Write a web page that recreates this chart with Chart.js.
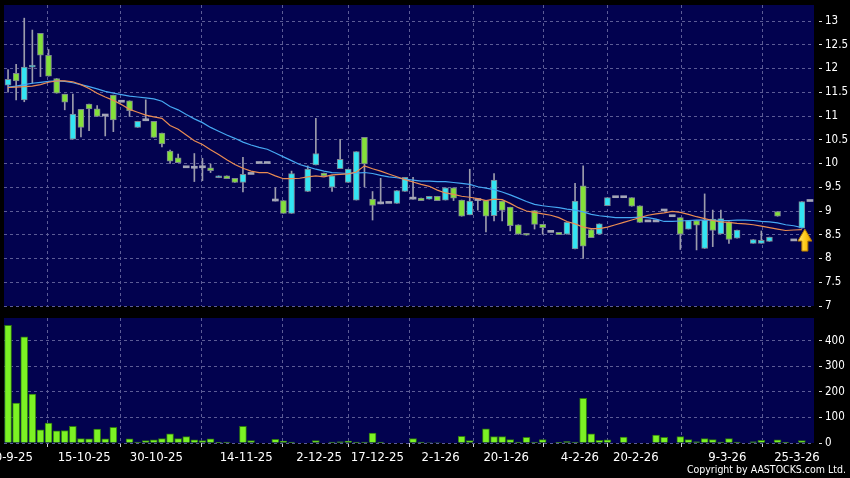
<!DOCTYPE html>
<html>
<head>
<meta charset="utf-8">
<script src="https://cdn.jsdelivr.net/npm/chart.js@4.4.1/dist/chart.umd.min.js"></script>
<style>
  body { margin: 0; background: #000; width: 850px; height: 478px; overflow: hidden; position: relative; }
  canvas { position: absolute; left: 0; }
  #copy { position: absolute; right: 4px; top: 463px; color: #fff;
          font: 10.5px "DejaVu Sans Condensed", "DejaVu Sans", sans-serif; white-space: nowrap; }
</style>
</head>
<body>
<canvas id="priceChart" width="850" height="312" style="top:0"></canvas>
<canvas id="volChart" width="850" height="166" style="top:312px"></canvas>
<div id="copy">Copyright by AASTOCKS.com Ltd.</div>
<script>
// nhãn trục X và vị trí (theo số thứ tự phiên)
const tickLabels = ['30-9-25', '15-10-25', '30-10-25', '14-11-25', '2-12-25', '17-12-25',
                    '2-1-26', '20-1-26', '4-2-26', '20-2-26', '9-3-26', '25-3-26'];
const tickIndex = [0.25, 9.4, 18.3, 29.4, 38.4, 45.6, 53.4, 61.5, 70.6, 77.5, 88.8, 97.4];
// nhãn trục Y
const priceTicks = [7, 7.5, 8, 8.5, 9, 9.5, 10, 10.5, 11, 11.5, 12, 12.5, 13];
const volTicks = [0, 100, 200, 300, 400];

// giá mở / cao / thấp / đóng cửa
const openP = [11.65, 11.90, 11.34, 12.03, 12.74, 12.28, 11.79, 11.46, 10.51, 11.14,
  11.25, 11.15, 11.00, 11.44, 11.29, 11.32, 10.76, 10.90, 10.89, 10.64,
  10.26, 10.12, 9.91, 9.90, 9.91, 9.91, 9.70, 9.74, 9.69, 9.60,
  9.77, 10.00, 10.00, 9.21, 9.22, 8.95, null, 9.41, 9.97, 9.80,
  9.50, 9.89, 9.60, 9.23, 10.55, 9.25, 9.15, 9.16, 9.16, 9.41,
  9.25, 9.27, 9.25, 9.31, 9.23, 9.49, 9.23, 8.92, 9.22, 9.22,
  8.90, 9.21, 9.08, 8.71, 8.53, 9.01, 8.72, 8.55, 8.55, 8.51,
  8.20, 9.53, 8.61, 8.51, 9.11, 9.28, 9.28, 9.28, 9.11, 8.77,
  8.77, 9.00, 8.88, 8.86, 8.62, 8.80, 8.21, 8.83, 8.52, 8.77,
  8.43, null, 8.32, 8.32, 8.36, 8.99, null, 8.37, 8.64, 9.20];
const highP = [11.98, 12.09, 13.06, 12.81, 12.74, 12.40, 11.79, 11.46, 11.46, 11.14,
  11.25, 11.22, 11.00, 11.44, 11.29, 11.32, 10.89, 11.34, 10.89, 10.64,
  10.28, 10.20, 9.91, 10.21, 10.11, 9.99, 9.74, 9.74, 9.69, 10.13,
  9.77, 10.00, 10.00, 9.49, 9.22, 9.84, null, 9.95, 10.95, 9.80,
  9.74, 10.51, 9.88, 10.25, 10.55, 9.41, 9.69, 9.16, 9.43, 9.71,
  9.71, 9.27, 9.31, 9.31, 9.49, 9.49, 9.23, 9.88, 9.22, 9.22,
  9.79, 9.21, 9.08, 8.71, 8.53, 9.01, 8.72, 8.55, 8.55, 8.76,
  9.58, 9.95, 8.61, 8.73, 9.28, 9.28, 9.28, 9.28, 9.11, 8.77,
  8.77, 9.00, 8.88, 8.86, 8.80, 8.80, 9.36, 9.02, 9.02, 8.77,
  8.60, null, 8.40, 8.58, 8.45, 8.99, null, 8.37, 9.20, 9.20];
const lowP = [11.50, 11.34, 11.30, 11.69, 11.83, 11.84, 11.48, 11.13, 10.51, 10.56,
  10.69, 10.99, 10.58, 10.67, 11.29, 10.99, 10.76, 10.90, 10.55, 10.35,
  10.00, 10.02, 9.91, 9.62, 9.64, 9.81, 9.70, 9.68, 9.60, 9.40,
  9.77, 10.00, 10.00, 9.21, 8.95, 8.95, null, 9.41, 9.97, 9.74,
  9.41, 9.89, 9.60, 9.23, 9.51, 8.81, 9.15, 9.16, 9.16, 9.41,
  9.25, 9.22, 9.25, 9.22, 9.23, 9.22, 8.89, 8.92, 9.02, 8.56,
  8.79, 8.79, 8.58, 8.51, 8.49, 8.62, 8.51, 8.55, 8.50, 8.51,
  8.20, 8.00, 8.44, 8.51, 9.11, 9.28, 9.28, 9.10, 8.76, 8.77,
  8.77, 9.00, 8.88, 8.19, 8.62, 8.18, 8.21, 8.25, 8.52, 8.32,
  8.43, null, 8.32, 8.32, 8.36, 8.89, null, 8.37, 8.64, 9.20];
const closeP = [11.77, 11.74, 12.03, 12.07, 12.28, 11.84, 11.48, 11.29, 11.04, 10.76,
  11.15, 10.99, 11.00, 10.92, 11.29, 11.11, 10.89, 10.90, 10.55, 10.41,
  10.05, 10.02, 9.91, 9.90, 9.91, 9.85, 9.74, 9.68, 9.60, 9.77,
  9.77, 10.00, 10.00, 9.21, 8.95, 9.79, null, 9.88, 10.21, 9.74,
  9.74, 10.09, 9.88, 10.25, 9.99, 9.12, 9.15, 9.16, 9.43, 9.71,
  9.25, 9.22, 9.31, 9.22, 9.49, 9.27, 8.89, 9.21, 9.22, 8.89,
  9.65, 9.01, 8.69, 8.51, 8.49, 8.72, 8.65, 8.55, 8.50, 8.76,
  9.21, 8.26, 8.44, 8.73, 9.28, 9.28, 9.28, 9.10, 8.76, 8.77,
  8.77, 9.00, 8.88, 8.51, 8.80, 8.70, 8.81, 8.59, 8.84, 8.40,
  8.60, null, 8.40, 8.38, 8.45, 8.89, null, 8.37, 9.20, 9.20];

// hai đường trung bình động
const maShort = [11.60, 11.61, 11.62, 11.63, 11.66, 11.71, 11.74, 11.74, 11.72, 11.66,
  11.58, 11.48, 11.40, 11.33, 11.24, 11.14, 11.08, 11.02, 10.98, 10.95,
  10.80, 10.72, 10.60, 10.48, 10.40, 10.29, 10.19, 10.08, 9.98, 9.90,
  9.84, 9.81, 9.81, 9.74, 9.68, 9.68, 9.69, 9.72, 9.74, 9.72,
  9.76, 9.77, 9.78, 9.82, 9.95, 9.89, 9.84, 9.78, 9.72, 9.66,
  9.61, 9.56, 9.52, 9.44, 9.38, 9.35, 9.31, 9.29, 9.26, 9.22,
  9.25, 9.24, 9.16, 9.07, 9.00, 8.97, 8.94, 8.91, 8.86, 8.78,
  8.73, 8.66, 8.63, 8.63, 8.66, 8.71, 8.76, 8.81, 8.86, 8.91,
  8.94, 8.96, 8.99, 8.97, 8.93, 8.88, 8.84, 8.80, 8.77, 8.76,
  8.74, 8.73, 8.71, 8.68, 8.65, 8.62, 8.59, 8.60, 8.61, null];
const maLong = [11.61, 11.63, 11.66, 11.69, 11.71, 11.73, 11.74, 11.73, 11.70, 11.66,
  11.62, 11.57, 11.52, 11.48, 11.45, 11.42, 11.40, 11.38, 11.36, 11.31,
  11.20, 11.13, 11.03, 10.94, 10.86, 10.76, 10.68, 10.60, 10.53, 10.45,
  10.39, 10.34, 10.30, 10.22, 10.14, 10.06, 9.98, 9.93, 9.88, 9.84,
  9.81, 9.80, 9.79, 9.80, 9.81, 9.79, 9.75, 9.72, 9.70, 9.67,
  9.65, 9.63, 9.63, 9.62, 9.62, 9.60, 9.58, 9.56, 9.51, 9.48,
  9.45, 9.40, 9.34, 9.27, 9.20, 9.14, 9.11, 9.09, 9.07, 9.04,
  9.02, 8.98, 8.93, 8.90, 8.88, 8.86, 8.86, 8.86, 8.87, 8.86,
  8.83, 8.78, 8.78, 8.79, 8.80, 8.81, 8.81, 8.81, 8.80, 8.80,
  8.81, 8.81, 8.80, 8.78, 8.77, 8.75, 8.71, 8.69, 8.65, null];

// khối lượng giao dịch
const volume = [461, 156, 416, 192, 52, 78, 48, 49, 65, 17,
  16, 55, 16, 61, 0, 16, 4, 9, 12, 17,
  36, 17, 25, 12, 9, 16, 3, 4, 0, 65,
  9, 0, 0, 14, 8, 4, 0, 0, 9, 0,
  4, 5, 8, 4, 4, 39, 4, 0, 0, 0,
  17, 4, 2, 2, 0, 0, 26, 9, 0, 56,
  25, 25, 13, 4, 22, 4, 13, 0, 3, 6,
  4, 175, 36, 10, 12, 0, 23, 0, 0, 0,
  31, 22, 0, 25, 13, 5, 17, 13, 4, 17,
  4, 0, 5, 10, 0, 12, 3, 0, 9, 0];

const UP = '#33e4f2', DOWN = '#84e03a', FLAT = '#a4a6b6';
const GRID = '#5c5c96';
const FONT = '"DejaVu Sans Condensed", "DejaVu Sans", sans-serif';

function candleColor(i) {
  if (closeP[i] > openP[i]) return UP;
  if (closeP[i] < openP[i]) return DOWN;
  return FLAT;
}

const idx = openP.map((v, i) => i).filter(i => openP[i] !== null);
const wickData = idx.filter(i => highP[i] > lowP[i]).map(i => ({ x: i, y: [lowP[i], highP[i]] }));
const bodyData = idx.map(i => ({ x: i, y: [Math.min(openP[i], closeP[i]), Math.max(openP[i], closeP[i])] }));
const toXY = arr => arr.map((v, i) => ({ x: i, y: v })).filter(p => p.y !== null);

// nền xanh đậm cho vùng vẽ
const plotBg = {
  id: 'plotBg',
  beforeDraw(chart) {
    const { ctx, chartArea: a } = chart;
    ctx.save();
    ctx.fillStyle = '#02024f';
    ctx.fillRect(a.left, a.top, a.right - a.left, a.bottom - a.top);
    ctx.restore();
  }
};

// mũi tên vàng dưới nến cuối
const arrowMark = {
  id: 'arrowMark',
  afterDatasetsDraw(chart) {
    const { ctx, scales: { x, y } } = chart;
    const last = 98;
    const cx = x.getPixelForValue(last) + 3;
    const tip = y.getPixelForValue(lowP[last]) + 1;
    ctx.save();
    ctx.beginPath();
    ctx.moveTo(cx, tip);
    ctx.lineTo(cx + 7, tip + 12);
    ctx.lineTo(cx + 3, tip + 12);
    ctx.lineTo(cx + 3, tip + 22);
    ctx.lineTo(cx - 3, tip + 22);
    ctx.lineTo(cx - 3, tip + 12);
    ctx.lineTo(cx - 7, tip + 12);
    ctx.closePath();
    const g = ctx.createLinearGradient(cx - 7, 0, cx + 7, 0);
    g.addColorStop(0, '#ffe680');
    g.addColorStop(0.5, '#ffcc1a');
    g.addColorStop(1, '#e8a000');
    ctx.fillStyle = g;
    ctx.fill();
    ctx.strokeStyle = '#b07800';
    ctx.lineWidth = 1;
    ctx.stroke();
    ctx.restore();
  }
};

function noPad(scale) {
  scale.paddingLeft = 0; scale.paddingRight = 0;
  scale.paddingTop = 0; scale.paddingBottom = 0;
}

function xAxis(showLabels) {
  return {
    type: 'linear', min: -0.5, max: 99.5, offset: false,
    afterBuildTicks: s => { s.ticks = tickIndex.map(v => ({ value: v })); },
    afterFit: s => { noPad(s); s.height = showLabels ? 35 : 0; },
    grid: { color: GRID, lineWidth: 1, drawTicks: showLabels, tickLength: 4,
            tickColor: '#d0d0d0', tickBorderDash: [] },
    border: { display: false, dash: [3, 3] },
    ticks: {
      display: showLabels, autoSkip: false, maxRotation: 0, minRotation: 0,
      color: '#ffffff', padding: 3, font: { family: FONT, size: 13 },
      callback: (v, i) => tickLabels[i]
    }
  };
}

function yAxis(min, max, values) {
  return {
    position: 'right', min: min, max: max,
    afterBuildTicks: s => { s.ticks = values.map(v => ({ value: v })); },
    afterFit: s => { noPad(s); s.width = 36; },
    grid: { color: GRID, lineWidth: 1, drawTicks: true, tickLength: 8,
            tickColor: '#e0e0e0', tickBorderDash: [0, 5, 3, 30] },
    border: { display: false, dash: [3, 3] },
    ticks: { color: '#ffffff', padding: 3, font: { family: FONT, size: 11.5 },
             callback: (v, i) => String(values[i]) }
  };
}

Chart.defaults.animation = false;

new Chart(document.getElementById('priceChart'), {
  type: 'bar',
  data: {
    datasets: [
      { type: 'line', data: toXY(maShort), borderColor: '#ea8c52', borderWidth: 1.2,
        pointRadius: 0, tension: 0, order: 0 },
      { type: 'line', data: toXY(maLong), borderColor: '#46a8f2', borderWidth: 1.2,
        pointRadius: 0, tension: 0, order: 0 },
      { data: bodyData, grouped: false, barThickness: 6, minBarLength: 2, order: 1,
        backgroundColor: c => candleColor(c.raw.x),
        borderColor: c => candleColor(c.raw.x) === FLAT ? FLAT : '#7d8492',
        borderWidth: c => candleColor(c.raw.x) === FLAT ? 0 : 1,
        borderSkipped: false },
      { data: wickData, grouped: false, barThickness: 1, order: 2,
        backgroundColor: '#9c9cac', borderWidth: 0 }
    ]
  },
  options: {
    responsive: false, events: [],
    layout: { padding: { left: 4, top: 5, right: 0, bottom: 6 } },
    plugins: { legend: { display: false }, tooltip: { enabled: false } },
    scales: { x: xAxis(false), y: yAxis(7, 13.337, priceTicks) }
  },
  plugins: [plotBg, arrowMark]
});

new Chart(document.getElementById('volChart'), {
  type: 'bar',
  data: {
    datasets: [{
      data: toXY(volume), barThickness: 7,
      backgroundColor: '#7cf224', borderColor: '#2f7a10', borderWidth: 1,
      borderSkipped: 'start'
    }]
  },
  options: {
    responsive: false, events: [],
    layout: { padding: { left: 4, top: 6, right: 0, bottom: 0 } },
    plugins: { legend: { display: false }, tooltip: { enabled: false } },
    scales: { x: xAxis(true), y: yAxis(0, 490, volTicks) }
  },
  plugins: [plotBg]
});
</script>
</body>
</html>
